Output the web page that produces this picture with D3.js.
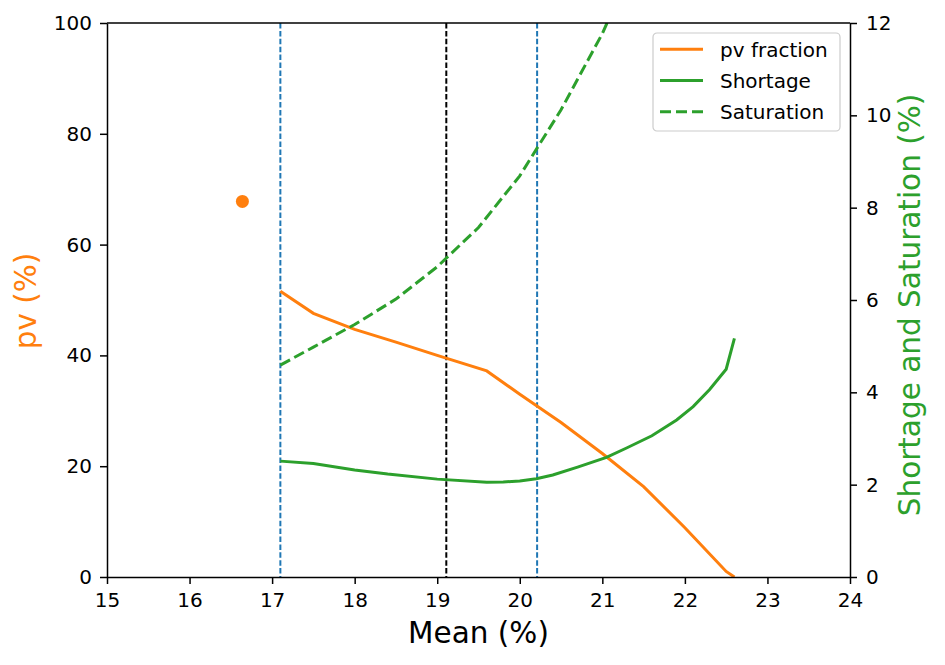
<!DOCTYPE html>
<html>
<head>
<meta charset="utf-8">
<script src="https://cdn.jsdelivr.net/npm/d3@7"></script>
<style>
  body { margin: 0; background: #fff; }
  svg { font-family: "DejaVu Sans", sans-serif; }
</style>
</head>
<body>
<svg id="chart"></svg>
<script>
// pv fraction (left axis, %)
const pvMean = [17.1, 17.5, 18.0, 18.5, 19.0, 19.6, 20.0, 20.5, 21.0, 21.5, 22.0, 22.5, 22.6];
const pvFraction = [51.6, 47.6, 44.7, 42.4, 40.0, 37.2, 33.0, 27.9, 22.3, 16.3, 8.9, 1.0, 0.0];

// shortage (right axis, %)
const shortMean = [17.1, 17.5, 18.0, 18.4, 19.0, 19.6, 19.8, 20.0, 20.2, 20.4, 20.7, 21.05, 21.3, 21.6, 21.9, 22.1, 22.3, 22.5, 22.6];
const shortage = [2.51, 2.46, 2.32, 2.23, 2.12, 2.05, 2.06, 2.08, 2.13, 2.21, 2.38, 2.59, 2.80, 3.06, 3.40, 3.69, 4.06, 4.50, 5.17];

// saturation (right axis, %)
const satMean = [17.1, 17.5, 18.0, 18.5, 19.0, 19.5, 20.0, 20.5, 21.0, 21.5];
const saturation = [4.59, 4.98, 5.47, 6.02, 6.72, 7.57, 8.69, 10.12, 11.77, 13.8];

// single point and reference lines
const pointMean = 16.64, pointPv = 67.8;
const blueLines = [17.1, 20.21];
const blackLine = 19.11;

const xTicks = [15, 16, 17, 18, 19, 20, 21, 22, 23, 24];
const yLeftTicks = [0, 20, 40, 60, 80, 100];
const yRightTicks = [0, 2, 4, 6, 8, 10, 12];

const orange = "#ff7f0e", green = "#2ca02c", blue = "#1f77b4";
const W = 945, H = 665;
const m = { left: 107, right: 850, top: 23, bottom: 577 };

const svg = d3.select("#chart").attr("width", W).attr("height", H);

const x = d3.scaleLinear().domain([15, 24]).range([m.left, m.right]);
const yL = d3.scaleLinear().domain([0, 100]).range([m.bottom, m.top]);
const yR = d3.scaleLinear().domain([0, 12]).range([m.bottom, m.top]);

svg.append("clipPath").attr("id", "clip")
  .append("rect")
  .attr("x", m.left).attr("y", m.top)
  .attr("width", m.right - m.left).attr("height", m.bottom - m.top);

const plot = svg.append("g").attr("clip-path", "url(#clip)");

// vertical reference lines
blueLines.forEach(v => {
  plot.append("line")
    .attr("x1", x(v)).attr("x2", x(v))
    .attr("y1", m.top).attr("y2", m.bottom)
    .attr("stroke", blue).attr("stroke-width", 2)
    .attr("stroke-dasharray", "5.5,2.4");
});
plot.append("line")
  .attr("x1", x(blackLine)).attr("x2", x(blackLine))
  .attr("y1", m.top).attr("y2", m.bottom)
  .attr("stroke", "#000").attr("stroke-width", 2)
  .attr("stroke-dasharray", "5.5,2.4");

const lineL = d3.line().x(d => x(d[0])).y(d => yL(d[1]));
const lineR = d3.line().x(d => x(d[0])).y(d => yR(d[1]));

plot.append("path")
  .datum(d3.zip(pvMean, pvFraction))
  .attr("d", lineL)
  .attr("fill", "none").attr("stroke", orange).attr("stroke-width", 3);

plot.append("circle")
  .attr("cx", x(pointMean)).attr("cy", yL(pointPv)).attr("r", 6.5)
  .attr("fill", orange);

plot.append("path")
  .datum(d3.zip(shortMean, shortage))
  .attr("d", lineR)
  .attr("fill", "none").attr("stroke", green).attr("stroke-width", 3);

plot.append("path")
  .datum(d3.zip(satMean, saturation))
  .attr("d", lineR)
  .attr("fill", "none").attr("stroke", green).attr("stroke-width", 3)
  .attr("stroke-dasharray", "11,4.8");

// axes
function styleAxis(g) {
  g.selectAll("path").attr("stroke", "#000").attr("stroke-width", 1.5);
  g.selectAll("line").attr("stroke", "#000").attr("stroke-width", 1.5);
  g.selectAll("text").attr("font-size", 20).attr("font-family", "DejaVu Sans").attr("fill", "#000");
}

svg.append("g")
  .attr("transform", `translate(0,${m.bottom})`)
  .call(d3.axisBottom(x).tickValues(xTicks).tickSize(7).tickPadding(9).tickSizeOuter(0))
  .call(styleAxis);

svg.append("g")
  .attr("transform", `translate(${m.left},0)`)
  .call(d3.axisLeft(yL).tickValues(yLeftTicks).tickSize(7).tickPadding(8).tickSizeOuter(0))
  .call(styleAxis);

svg.append("g")
  .attr("transform", `translate(${m.right},0)`)
  .call(d3.axisRight(yR).tickValues(yRightTicks).tickSize(7).tickPadding(9).tickSizeOuter(0))
  .call(styleAxis);

// top spine
svg.append("line")
  .attr("x1", m.left).attr("x2", m.right)
  .attr("y1", m.top).attr("y2", m.top)
  .attr("stroke", "#000").attr("stroke-width", 1.5);

// axis labels
svg.append("text")
  .attr("x", (m.left + m.right) / 2).attr("y", 643)
  .attr("text-anchor", "middle").attr("font-size", 29.5)
  .text("Mean (%)");

svg.append("text")
  .attr("transform", `translate(36,301) rotate(-90)`)
  .attr("text-anchor", "middle").attr("font-size", 29.5).attr("fill", orange)
  .text("pv (%)");

svg.append("text")
  .attr("transform", `translate(920,305) rotate(-90)`)
  .attr("text-anchor", "middle").attr("font-size", 29.5).attr("fill", green)
  .text("Shortage and Saturation (%)");

// legend
const legendItems = [
  { label: "pv fraction", color: orange, dash: null },
  { label: "Shortage", color: green, dash: null },
  { label: "Saturation", color: green, dash: "11,5" }
];
const lg = svg.append("g").attr("transform", "translate(653,33)");
lg.append("rect")
  .attr("width", 187).attr("height", 98).attr("rx", 4)
  .attr("fill", "#fff").attr("fill-opacity", 0.8)
  .attr("stroke", "#ccc").attr("stroke-width", 1.2);
legendItems.forEach((d, i) => {
  const yy = 16.3 + i * 31.2;
  lg.append("line")
    .attr("x1", 7).attr("x2", 50).attr("y1", yy).attr("y2", yy)
    .attr("stroke", d.color).attr("stroke-width", 3)
    .attr("stroke-dasharray", d.dash);
  lg.append("text")
    .attr("x", 67).attr("y", yy + 7.5)
    .attr("font-size", 20)
    .text(d.label);
});
</script>
</body>
</html>
